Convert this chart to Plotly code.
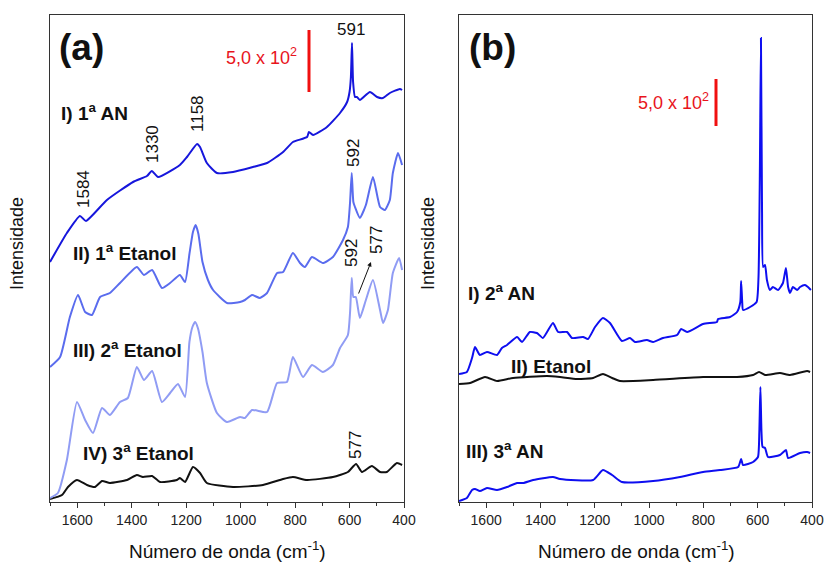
import plotly.graph_objects as go

W, H = 827, 562

# ---------------- Panel (a) spectra ----------------
a1_wn = [1700, 1638, 1590, 1568, 1491, 1395, 1344, 1326, 1303, 1223, 1197, 1160, 1149, 1124, 1087, 1028,
         955, 903, 844, 808, 756, 749, 734, 683, 635, 609, 600, 595, 591, 587, 580, 573, 562, 525, 499, 477,
         452, 415, 407]
a1_int = [240, 269, 286, 281, 302, 320, 326, 331, 325, 337, 345, 358, 355, 339, 329, 330,
          335, 339, 350, 360, 365, 370, 367, 375, 389, 400, 410, 425, 459, 420, 405, 405, 402, 410, 405, 404,
          409, 413, 412]

a2_wn = [1700, 1663, 1627, 1597, 1571, 1546, 1516, 1480, 1443, 1381, 1355, 1325, 1289, 1259, 1223, 1204,
         1188, 1175, 1165, 1155, 1140, 1120, 1101, 1050, 1002, 984, 958, 929, 903, 866, 844, 808, 782, 764, 738,
         698, 661, 624, 606, 598, 592, 586, 580, 562, 540, 514, 488, 470, 452, 441, 422, 407]
a2_int = [135, 145, 185, 207, 190, 187, 205, 209, 219, 235, 227, 232, 214, 219, 227, 220,
          248, 270, 277, 268, 240, 222, 212, 199, 200, 202, 207, 204, 209, 229, 230, 249, 239, 235, 245,
          239, 245, 262, 275, 300, 329, 300, 295, 284, 297, 325, 295, 292, 302, 329, 349, 337]

a3_wn = [1700, 1671, 1638, 1601, 1571, 1542, 1509, 1480, 1443, 1414, 1381, 1355, 1325, 1289, 1259, 1230,
         1204, 1188, 1177, 1167, 1157, 1140, 1124, 1087, 1050, 1002, 984, 958, 903, 866, 830, 808, 771, 738,
         698, 661, 635, 606, 598, 592, 586, 577, 562, 540, 514, 488, 477, 459, 441, 418, 407]
a3_int = [4, 9, 42, 100, 82, 69, 94, 87, 100, 104, 135, 122, 131, 100, 109, 118,
          105, 160, 175, 180, 174, 150, 119, 89, 80, 85, 84, 92, 90, 119, 120, 145, 125, 137,
          130, 137, 154, 167, 190, 224, 205, 205, 184, 202, 222, 192, 179, 192, 229, 244, 232]

a4_wn = [1700, 1656, 1634, 1601, 1564, 1535, 1509, 1480, 1417, 1381, 1359, 1325, 1296, 1234, 1223, 1204,
         1175, 1149, 1124, 1028, 918, 844, 808, 756, 661, 606, 576, 554, 518, 488, 463, 426, 407]
a4_int = [3, 7, 15, 22, 17, 15, 21, 19, 22, 27, 25, 26, 20, 22, 24, 20,
          35, 29, 19, 15, 17, 23, 25, 22, 25, 30, 38, 30, 36, 30, 30, 39, 37]

# ---------------- Panel (b) spectra ----------------
b1_wn = [1700, 1671, 1652, 1641, 1623, 1597, 1560, 1542, 1523, 1486, 1468, 1439, 1413, 1391, 1354, 1335,
         1302, 1284, 1243, 1225, 1199, 1170, 1144, 1100, 1070, 1052, 1008, 985, 949, 897, 882, 860, 801,
         750, 746, 702, 676, 664, 661, 657, 654, 628, 604, 597, 592, 588, 584, 580, 573, 566, 555, 544,
         525, 507, 496, 488, 481, 470, 455, 444, 426, 415, 404]
b1_int = [128, 130, 144, 155, 147, 150, 147, 154, 157, 165, 160, 170, 169, 164, 179, 170,
          170, 164, 165, 163, 175, 184, 179, 161, 164, 160, 162, 160, 164, 167, 173, 170, 178,
          180, 183, 185, 190, 200, 221, 200, 192, 195, 200, 225, 330, 464, 290, 235, 237, 222, 212, 215,
          212, 219, 234, 215, 209, 215, 212, 215, 217, 215, 212]

b2_wn = [1700, 1659, 1604, 1560, 1501, 1376, 1328, 1265, 1206, 1170, 1136, 1107, 985, 801, 676, 617,
         595, 573, 518, 481, 418, 407]
b2_int = [118, 119, 125, 121, 124, 126, 125, 123, 124, 128, 124, 121, 122, 125, 125, 127,
          130, 127, 129, 127, 131, 130]

b3_wn = [1700, 1671, 1652, 1641, 1623, 1597, 1560, 1523, 1486, 1464, 1427, 1354, 1328, 1206, 1170, 1136,
         1100, 985, 886, 801, 739, 672, 661, 654, 617, 599, 594, 590, 586, 582, 573, 562, 518, 496, 488,
         444, 418, 407]
b3_int = [1, 4, 12, 13, 11, 14, 12, 15, 19, 19, 22, 25, 23, 22, 32, 27,
          20, 21, 25, 30, 32, 35, 43, 37, 40, 45, 70, 115, 70, 55, 54, 45, 47, 52, 44,
          49, 50, 49]

# ---------------- text ----------------
x_title = "Número de onda (cm<sup>-1</sup>)"
y_title = "Intensidade"
scale_text = "5,0 x 10<sup>2</sup>"
x_ticks = [1600, 1400, 1200, 1000, 800, 600, 400]

C_DARK = "#1616DC"
C_MID = "#5A6CEE"
C_LIGHT = "#909CF4"
C_B = "#0E0EF0"

FONT = "Arial, 'Liberation Sans', sans-serif"

fig = go.Figure()


def add(xs, ys, color, xa, ya):
    fig.add_trace(go.Scatter(x=xs, y=ys, mode="lines",
                             line=dict(color=color, width=2, shape="spline", smoothing=0.5),
                             xaxis=xa, yaxis=ya, showlegend=False, hoverinfo="skip"))


add(a4_wn, a4_int, "#111111", "x", "y")
add(a3_wn, a3_int, C_LIGHT, "x", "y")
add(a2_wn, a2_int, C_MID, "x", "y")
add(a1_wn, a1_int, C_DARK, "x", "y")
add(b2_wn, b2_int, "#111111", "x2", "y2")
add(b3_wn, b3_int, C_B, "x2", "y2")
add(b1_wn, b1_int, C_B, "x2", "y2")


def px(x, y):
    """page pixel -> paper coords"""
    return x / W, 1 - y / H


def xaxis(domain, anchor):
    return dict(domain=domain, anchor=anchor, range=[1700, 400], tickvals=x_ticks,
                ticks="outside", ticklen=5, tickwidth=1, tickcolor="#333",
                minor=dict(ticks="outside", ticklen=3, dtick=100, tick0=0, tickcolor="#333"),
                showline=True, mirror=True, linecolor="#333", linewidth=1,
                showgrid=False, zeroline=False, automargin=False,
                tickfont=dict(family=FONT, size=14, color="#222"))


def yaxis(domain, anchor):
    return dict(domain=domain, anchor=anchor, range=[0, 487], showticklabels=False, ticks="",
                showline=True, mirror=True, linecolor="#333", linewidth=1,
                showgrid=False, zeroline=False, automargin=False)


ydom = [px(0, 502)[1], px(0, 15)[1]]
xdom_a = [px(50, 0)[0], px(404, 0)[0]]
xdom_b = [px(459, 0)[0], px(812, 0)[0]]
annotations = []


def txt(text, x, y, size, xanchor="center", color="#111", bold=False, angle=0):
    xp, yp = px(x, y)
    annotations.append(dict(text=f"<b>{text}</b>" if bold else text, x=xp, y=yp, xref="paper",
                            yref="paper", showarrow=False, xanchor=xanchor, yanchor="middle",
                            textangle=angle, font=dict(family=FONT, size=size, color=color)))


# panel labels
txt("(a)", 57, 48, 37, xanchor="left", bold=True)
txt("(b)", 467, 48, 37, xanchor="left", bold=True)
# scale text
txt(scale_text, 299, 57, 18, xanchor="right", color="#E8141C")
txt(scale_text, 711, 101, 18, xanchor="right", color="#E8141C")
# series labels
txt("I) 1<sup>a</sup> AN", 59, 112, 19, xanchor="left", bold=True)
txt("II) 1<sup>a</sup> Etanol", 71, 252, 19, xanchor="left", bold=True)
txt("III) 2<sup>a</sup> Etanol", 71, 349, 19, xanchor="left", bold=True)
txt("IV) 3<sup>a</sup> Etanol", 81, 452, 19, xanchor="left", bold=True)
txt("I) 2<sup>a</sup> AN", 466, 292, 19, xanchor="left", bold=True)
txt("II) Etanol", 509, 366, 19, xanchor="left", bold=True)
txt("III) 3<sup>a</sup> AN", 464, 450, 19, xanchor="left", bold=True)
# peak labels
txt("1584", 83, 189, 17, angle=-90)
txt("1330", 152, 144, 17, angle=-90)
txt("1158", 197, 114, 17, angle=-90)
txt("591", 351, 29, 17)
txt("592", 353, 153, 17, angle=-90)
txt("592", 352, 253, 17, angle=-90)
txt("577", 377, 240, 17, angle=-90)
txt("577", 356, 445, 17, angle=-90)
# axis titles
txt(x_title, 227, 550, 19)
txt(x_title, 636, 550, 19)
txt(y_title, 17, 244, 18, angle=-90)
txt(y_title, 428, 244, 18, angle=-90)
# arrow 577
hx, hy = px(371, 262)
annotations.append(dict(x=hx, y=hy, xref="paper", yref="paper", text="", showarrow=True,
                        ax=-13, ay=33, arrowhead=2, arrowsize=0.9, arrowwidth=1, arrowcolor="#111"))

shapes = []
for (x, y0, y1) in [(309, 30, 92), (716, 79, 126)]:
    xp, yp0 = px(x, y0)
    _, yp1 = px(x, y1)
    shapes.append(dict(type="line", xref="paper", yref="paper", x0=xp, x1=xp, y0=yp0, y1=yp1,
                       line=dict(color="#F01010", width=3)))

fig.update_layout(
    width=W, height=H, autosize=False,
    margin=dict(l=0, r=0, t=0, b=0, autoexpand=False),
    paper_bgcolor="white", plot_bgcolor="white",
    xaxis=xaxis(xdom_a, "y"),
    yaxis=yaxis(ydom, "x"),
    xaxis2=xaxis(xdom_b, "y2"),
    yaxis2=yaxis(ydom, "x2"),
    annotations=annotations, shapes=shapes,
    font=dict(family=FONT),
)

fig.write_html("out.html", config={"displayModeBar": False},
               post_script="document.body.style.margin='0px';document.body.style.overflow='hidden';")
